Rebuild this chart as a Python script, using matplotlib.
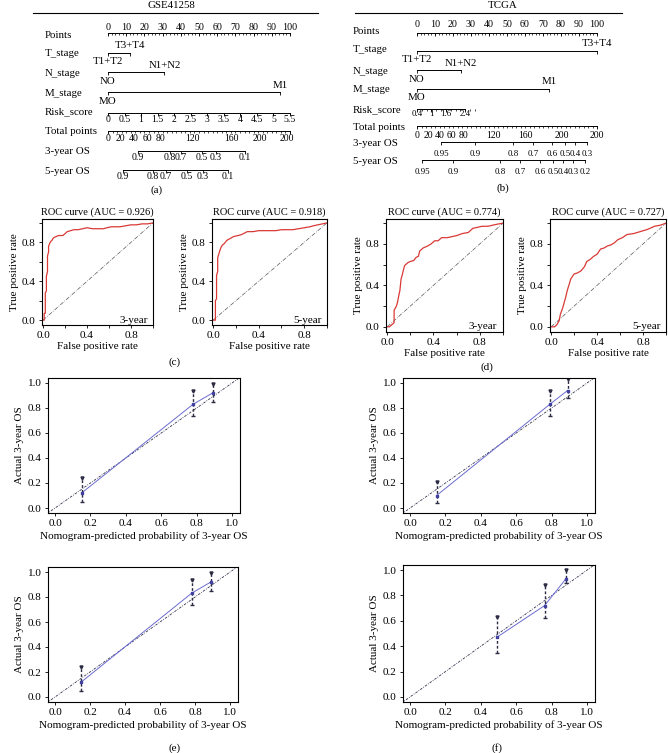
import matplotlib.pyplot as plt

plt.rcParams['font.family'] = ['Liberation Serif', 'DejaVu Serif']
plt.rcParams['font.size'] = 7.5

W, H = 668, 753

# ---------------- nomogram data (positions in "Points", 0-100) ----------------
gse_t_labels = ["T1+T2", "T3+T4"]
gse_t_points = [0, 12]
gse_n_labels = ["NO", "N1+N2"]
gse_n_points = [0, 31]
gse_m_labels = ["MO", "M1"]
gse_m_points = [0, 94.5]
gse_risk_values = [0, 0.5, 1, 1.5, 2, 2.5, 3, 3.5, 4, 4.5, 5, 5.5]
gse_risk_scale = 100 / 5.5
gse_total_labels = ["0", "20", "40", "60", "80", "120", "160", "200", "200"]
gse_total_points = [0, 6.6, 14.3, 21.4, 28.6, 46.2, 67.6, 83.5, 98.4]
gse_os3_labels = ["0.9", "0.8", "0.7", "0.5", "0.3", "0.1"]
gse_os3_points = [16.5, 34.0, 40.1, 51.6, 59.3, 75.3]
gse_os5_labels = ["0.9", "0.8", "0.7", "0.5", "0.3", "0.1"]
gse_os5_points = [8.2, 24.7, 31.9, 43.4, 52.2, 65.9]

tcga_t_labels = ["T1+T2", "T3+T4"]
tcga_t_points = [0, 100]
tcga_n_labels = ["NO", "N1+N2"]
tcga_n_points = [0, 24.4]
tcga_m_labels = ["MO", "M1"]
tcga_m_points = [0, 73.3]
tcga_risk_values = [0.4, 1, 1.6, 2.4]
tcga_risk_ticks = [0.4, 0.6, 0.8, 1.0, 1.2, 1.4, 1.6, 1.8, 2.0, 2.2, 2.4, 2.6, 2.8]
tcga_risk_scale = 13.4
tcga_total_labels = ["0", "20", "40", "60", "80", "120", "160", "200", "200"]
tcga_total_points = [0, 6.1, 12.8, 19.4, 26.1, 42.2, 60.0, 80.6, 100]
tcga_os3_labels = ["0.95", "0.9", "0.8", "0.7", "0.6", "0.5", "0.4", "0.3"]
tcga_os3_points = [13.3, 32.2, 53.3, 64.4, 75.0, 82.2, 87.8, 94.4]
tcga_os5_labels = ["0.95", "0.9", "0.8", "0.7", "0.6", "0.5", "0.4", "0.3", "0.2"]
tcga_os5_points = [2.8, 20.0, 46.1, 57.2, 68.3, 75.6, 81.1, 86.7, 93.3]

# ---------------- ROC curves ----------------
gse3_fpr = [0, 0.01, 0.01, 0.02, 0.02, 0.03, 0.03, 0.04, 0.04, 0.05, 0.05, 0.06, 0.07, 0.08,
            0.09, 0.10, 0.12, 0.14, 0.18, 0.20, 0.22, 0.25, 0.28, 0.32, 0.36, 0.40, 0.45,
            0.50, 0.55, 0.58, 0.62, 0.66, 0.70, 0.75, 0.80, 0.85, 0.90, 0.95, 1.0]
gse3_tpr = [0, 0, 0.07, 0.07, 0.28, 0.30, 0.45, 0.50, 0.66, 0.70, 0.76, 0.79, 0.81, 0.82,
            0.84, 0.85, 0.86, 0.87, 0.87, 0.89, 0.91, 0.92, 0.93, 0.93, 0.94, 0.95, 0.94,
            0.94, 0.94, 0.95, 0.96, 0.96, 0.96, 0.97, 0.98, 0.98, 0.99, 0.99, 1.0]
gse5_fpr = [0, 0.02, 0.02, 0.03, 0.03, 0.04, 0.04, 0.05, 0.06, 0.07, 0.08, 0.10, 0.12, 0.15,
            0.18, 0.22, 0.25, 0.30, 0.35, 0.40, 0.50, 0.55, 0.60, 0.65, 0.70, 0.75, 0.80,
            0.85, 0.88, 0.92, 0.96, 1.0]
gse5_tpr = [0, 0, 0.20, 0.22, 0.46, 0.50, 0.64, 0.68, 0.72, 0.75, 0.77, 0.79, 0.82, 0.84,
            0.86, 0.87, 0.88, 0.91, 0.91, 0.92, 0.92, 0.92, 0.93, 0.93, 0.93, 0.94, 0.95,
            0.96, 0.97, 0.98, 0.99, 1.0]
tcga3_fpr = [0, 0.02, 0.04, 0.06, 0.06, 0.08, 0.09, 0.10, 0.11, 0.12, 0.13, 0.15, 0.18, 0.20,
             0.23, 0.25, 0.27, 0.28, 0.31, 0.35, 0.38, 0.41, 0.44, 0.47, 0.52, 0.56, 0.60,
             0.65, 0.70, 0.74, 0.78, 0.82, 0.87, 0.91, 0.95, 1.0]
tcga3_tpr = [0, 0.0, 0.02, 0.04, 0.16, 0.20, 0.24, 0.30, 0.35, 0.46, 0.50, 0.59, 0.62, 0.63,
             0.64, 0.67, 0.68, 0.73, 0.76, 0.78, 0.80, 0.83, 0.83, 0.86, 0.86, 0.87, 0.88,
             0.90, 0.91, 0.95, 0.96, 0.97, 0.97, 0.98, 0.99, 1.0]
tcga5_fpr = [0, 0.03, 0.05, 0.07, 0.08, 0.10, 0.11, 0.13, 0.14, 0.16, 0.17, 0.20, 0.23, 0.26,
             0.29, 0.31, 0.34, 0.37, 0.40, 0.43, 0.46, 0.49, 0.52, 0.55, 0.58, 0.62, 0.66,
             0.72, 0.78, 0.84, 0.90, 0.95, 1.0]
tcga5_tpr = [0, 0.0, 0.02, 0.06, 0.12, 0.18, 0.22, 0.30, 0.35, 0.42, 0.46, 0.51, 0.52, 0.54,
             0.58, 0.63, 0.65, 0.68, 0.70, 0.75, 0.76, 0.78, 0.79, 0.81, 0.84, 0.86, 0.89,
             0.90, 0.92, 0.94, 0.97, 0.98, 1.0]

# ---------------- calibration ----------------
cal_e1_pred = [0.15, 0.78, 0.89]
cal_e1_obs = [0.12, 0.83, 0.92]
cal_e1_lo = [0.05, 0.74, 0.85]
cal_e1_hi = [0.24, 0.94, 0.99]
cal_f1_pred = [0.15, 0.79, 0.89]
cal_f1_obs = [0.10, 0.83, 0.94]
cal_f1_lo = [0.04, 0.74, 0.88]
cal_f1_hi = [0.21, 0.94, 1.03]
cal_e2_pred = [0.15, 0.78, 0.89]
cal_e2_obs = [0.12, 0.83, 0.92]
cal_e2_lo = [0.05, 0.74, 0.85]
cal_e2_hi = [0.24, 0.94, 0.99]
cal_f2_pred = [0.49, 0.76, 0.88]
cal_f2_obs = [0.47, 0.72, 0.93]
cal_f2_lo = [0.35, 0.62, 0.90]
cal_f2_hi = [0.63, 0.88, 1.00]

fig = plt.figure(figsize=(W / 100, H / 100), dpi=100)


def px_axes(x0, y0, x1, y1):
    return fig.add_axes([x0 / W, 1 - y1 / H, (x1 - x0) / W, (y1 - y0) / H])


def ftext(x, y, s, **kw):
    fig.text(x / W, 1 - y / H, s, ha='center', va='center', **kw)


# ======================= nomograms =======================
def scale_row(ax, pos, labels, y, lab_dy, minor=None, tick=2.5, fs=7):
    ax.plot([min(pos), max(pos)], [y, y], color='k', lw=0.7)
    if minor is not None:
        ax.vlines(minor, y, y + 1.8, color='k', lw=0.5)
    ax.vlines(pos, y, y + tick, color='k', lw=0.6)
    for p, s in zip(pos, labels):
        ax.text(p, y + lab_dy, s, ha='center', va='center', fontsize=fs)


def cat_row(ax, pts, labels, y):
    ax.plot(pts, [y, y], color='k', lw=0.7)
    ax.vlines(pts, y, y + 2.5, color='k', lw=0.6)
    ax.text(pts[1], y - 7, labels[1], ha='center', va='center', fontsize=7.8)
    ax.text(pts[0], y + 9, labels[0], ha='center', va='center', fontsize=7.8)


def nomogram(left, right, zero_px, scale, lab_px, ys, d):
    ax = px_axes(left, 0, right, 200)
    ax.set_xlim((left - zero_px) / scale, (right - zero_px) / scale)
    ax.set_ylim(200, 0)
    ax.axis('off')
    lx = (lab_px - zero_px) / scale
    names = ["Points", "T_stage", "N_stage", "M_stage", "Risk_score",
             "Total points", "3-year OS", "5-year OS"]
    keys = ["points", "t", "n", "m", "risk", "total", "os3", "os5"]
    for nm, k in zip(names, keys):
        ax.text(lx, ys[k + "_name"], nm, ha='left', va='center', fontsize=7.8)
    # points axis
    y = ys["points"]
    ax.plot([0, 100], [y, y], color='k', lw=0.7)
    ax.vlines(range(0, 101, 2), y, y + 1.8, color='k', lw=0.5)
    ax.vlines(range(0, 101, 10), y, y + 2.8, color='k', lw=0.6)
    for v in range(0, 101, 10):
        ax.text(v, ys["points_lab"], str(v), ha='center', va='center', fontsize=7.2)
    cat_row(ax, d["t_pts"], d["t_lab"], ys["t"])
    cat_row(ax, d["n_pts"], d["n_lab"], ys["n"])
    cat_row(ax, d["m_pts"], d["m_lab"], ys["m"])
    scale_row(ax, d["risk_pos"], d["risk_lab"], ys["risk"], ys["risk_dy"],
              minor=d["risk_minor"], fs=d["fs"])
    tot_minor = [i * 2.5 for i in range(41)]
    scale_row(ax, [0, 100], ["", ""], ys["total"], ys["total_dy"], minor=tot_minor)
    for p, s in zip(d["total_pts"], d["total_lab"]):
        ax.text(p, ys["total"] + ys["total_dy"], s, ha='center', va='center', fontsize=7)
    scale_row(ax, d["os3_pts"], d["os3_lab"], ys["os3"], ys["os3_dy"], fs=d["fs"])
    scale_row(ax, d["os5_pts"], d["os5_lab"], ys["os5"], ys["os5_dy"], fs=d["fs"])


gse_y = dict(points=33, points_lab=27, t=53, n=72, m=92, risk=113, total=131, os3=151, os5=170,
             risk_dy=6.5, total_dy=7.5, os3_dy=7, os5_dy=6.5,
             points_name=36, t_name=54, n_name=73, m_name=93, risk_name=112, total_name=132,
             os3_name=151, os5_name=171)
gse_d = dict(t_pts=gse_t_points, t_lab=gse_t_labels, n_pts=gse_n_points, n_lab=gse_n_labels,
             m_pts=gse_m_points, m_lab=gse_m_labels,
             risk_pos=[v * gse_risk_scale for v in gse_risk_values],
             risk_lab=[f"{v:g}" for v in gse_risk_values],
             risk_minor=[v * gse_risk_scale for v in gse_risk_values],
             total_pts=gse_total_points, total_lab=gse_total_labels,
             os3_pts=gse_os3_points, os3_lab=gse_os3_labels,
             os5_pts=gse_os5_points, os5_lab=gse_os5_labels, fs=7)
nomogram(0, 330, 108, 1.82, 45, gse_y, gse_d)

tcga_y = dict(points=33, points_lab=24.5, t=51, n=70, m=89, risk=109, total=126, os3=142, os5=160,
              risk_dy=5.5, total_dy=9.5, os3_dy=11.5, os5_dy=12.5,
              points_name=32, t_name=50, n_name=71, m_name=90, risk_name=110, total_name=127,
              os3_name=143, os5_name=162)
tcga_d = dict(t_pts=tcga_t_points, t_lab=tcga_t_labels, n_pts=tcga_n_points, n_lab=tcga_n_labels,
              m_pts=tcga_m_points, m_lab=tcga_m_labels,
              risk_pos=[(v - 0.4) * tcga_risk_scale for v in tcga_risk_values],
              risk_lab=[f"{v:g}" for v in tcga_risk_values],
              risk_minor=[(v - 0.4) * tcga_risk_scale for v in tcga_risk_ticks],
              total_pts=tcga_total_points, total_lab=tcga_total_labels,
              os3_pts=tcga_os3_points, os3_lab=tcga_os3_labels,
              os5_pts=tcga_os5_points, os5_lab=tcga_os5_labels, fs=6.4)
nomogram(340, 668, 417, 1.8, 353, tcga_y, tcga_d)

# titles with rules
ftext(171, 6, "GSE41258", fontsize=7.8)
ftext(503, 6, "TCGA", fontsize=7.8)
rule = fig.add_axes([0, 0, 1, 1], facecolor='none')
rule.set_xlim(0, W)
rule.set_ylim(H, 0)
rule.axis('off')
rule.plot([33, 318], [13, 13], color='k', lw=0.8)
rule.plot([355, 622], [13, 13], color='k', lw=0.8)
ftext(157, 190, "(a)", fontsize=8)
ftext(503, 188, "(b)", fontsize=8)


# ======================= ROC panels =======================
def roc(box, fpr, tpr, auc, tag):
    ax = px_axes(*box)
    ax.plot([0, 1], [0, 1], color='#555555', lw=0.5, ls=(0, (6, 2, 1, 2)))
    ax.plot(fpr, tpr, color='#d93a36', lw=0.9)
    ax.set_xlim(-0.01, 1.0)
    ax.set_ylim(-0.05, 1.04)
    ax.set_xticks([0, 0.4, 0.8])
    ax.set_xticks([0.2, 0.6, 1.0], minor=True)
    ax.set_yticks([0, 0.4, 0.8])
    ax.set_yticks([0.2, 0.6, 1.0], minor=True)
    ax.set_xticklabels(["0.0", "0.4", "0.8"])
    ax.set_yticklabels(["0.0", "0.4", "0.8"])
    ax.tick_params(which='both', length=2.5, width=0.6, labelsize=8, pad=2)
    for sp in ax.spines.values():
        sp.set_linewidth(0.8)
    ax.set_xlabel("False positive rate", fontsize=8, labelpad=1)
    ax.set_ylabel("True positive rate", fontsize=8, labelpad=2)
    ax.set_title(f"ROC curve (AUC = {auc})", fontsize=7.5, pad=3)
    ax.text(0.95, 0.0, tag, ha='right', va='center', fontsize=8)


roc((42, 219, 153, 325), gse3_fpr, gse3_tpr, "0.926", "3-year")
roc((212, 219, 327, 325), gse5_fpr, gse5_tpr, "0.918", "5-year")
roc((386, 219, 503, 332), tcga3_fpr, tcga3_tpr, "0.774", "3-year")
roc((550, 219, 666, 332), tcga5_fpr, tcga5_tpr, "0.727", "5-year")
ftext(175, 362, "(c)", fontsize=8)
ftext(487, 367, "(d)", fontsize=8)


# ======================= calibration panels =======================
def calib(box, pred, obs, lo, hi):
    ax = px_axes(*box)
    ax.plot([-0.05, 1.05], [-0.05, 1.05], color='#33334d', lw=0.6, ls=(0, (3, 1.5, 1, 1.5)))
    ax.plot(pred, obs, color='#6b6bd0', lw=0.7)
    ax.vlines(pred, lo, hi, color='#2b2b44', lw=1.0, linestyles=(0, (2, 1.5)))
    ax.plot(pred, hi, ls='none', marker='v', ms=2.2, color='#2b2b44')
    ax.plot(pred, lo, ls='none', marker='_', ms=3, mew=1, color='#2b2b44')
    ax.plot(pred, obs, ls='none', marker='s', ms=1.6, color='#4040a0')
    ax.set_xlim(-0.04, 1.045)
    ax.set_ylim(-0.04, 1.04)
    ticks = [0, 0.2, 0.4, 0.6, 0.8, 1.0]
    ax.set_xticks(ticks)
    ax.set_yticks(ticks)
    ax.set_xticklabels([f"{t:.1f}" for t in ticks])
    ax.set_yticklabels([f"{t:.1f}" for t in ticks])
    ax.tick_params(length=2.5, width=0.6, labelsize=8, pad=2)
    for sp in ax.spines.values():
        sp.set_linewidth(0.8)
    ax.set_xlabel("Nomogram-predicted probability of 3-year OS", fontsize=8, labelpad=2)
    ax.set_ylabel("Actual 3-year OS", fontsize=8, labelpad=3)


calib((48, 378, 240, 513), cal_e1_pred, cal_e1_obs, cal_e1_lo, cal_e1_hi)
calib((403, 378, 595, 513), cal_f1_pred, cal_f1_obs, cal_f1_lo, cal_f1_hi)
calib((48, 567, 238, 702), cal_e2_pred, cal_e2_obs, cal_e2_lo, cal_e2_hi)
calib((403, 565, 595, 702), cal_f2_pred, cal_f2_obs, cal_f2_lo, cal_f2_hi)
ftext(175, 748, "(e)", fontsize=8)
ftext(497, 748, "(f)", fontsize=8)

fig.savefig("out.png", dpi=100)
